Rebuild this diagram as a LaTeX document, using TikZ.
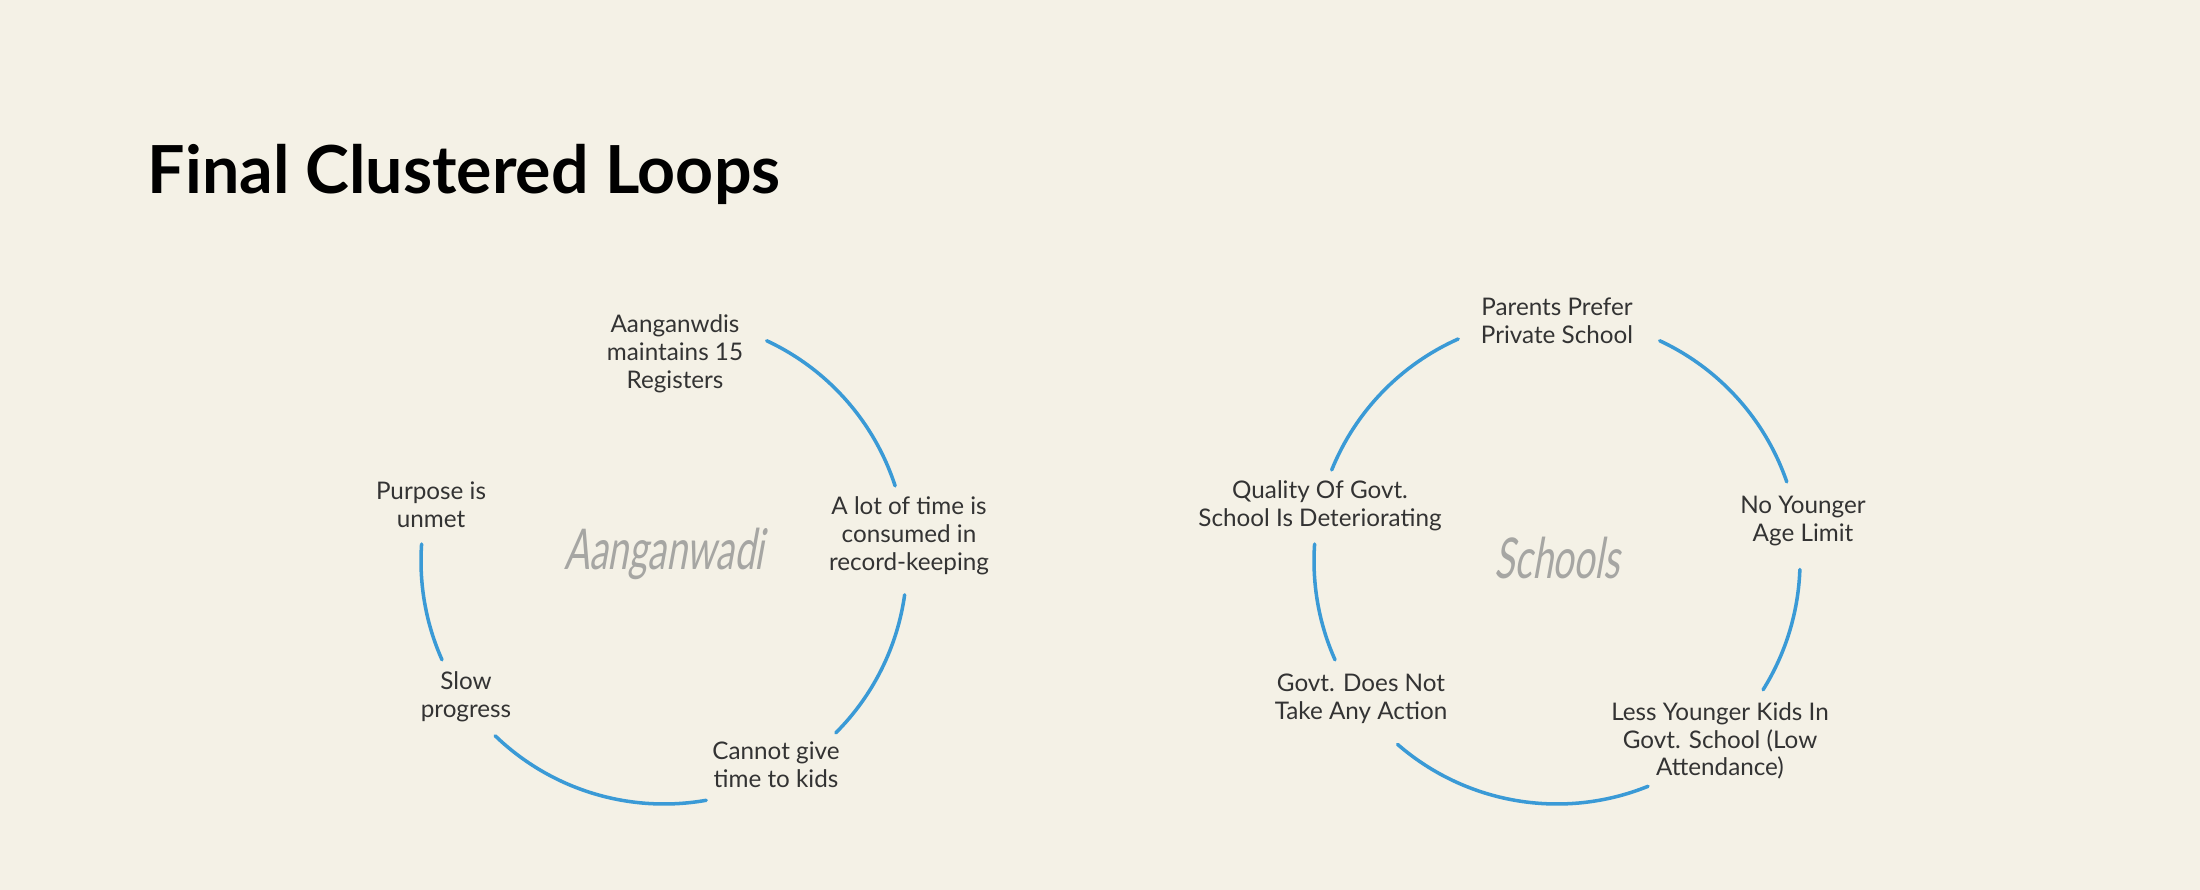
\documentclass[tikz,border=0pt]{standalone}
\usepackage{fontspec}
\setsansfont{Lato}
\newfontfamily\handfont{Lato}[FakeStretch=0.66,FakeSlant=0.18]
\usetikzlibrary{positioning, calc}

\definecolor{paper}{HTML}{F4F1E6}
\definecolor{loopblue}{HTML}{3A9AD6}
\definecolor{ink}{HTML}{333333}
\definecolor{faint}{HTML}{A6A6A3}

\begin{document}
\begin{tikzpicture}[
    font=\sffamily,
    % Styles
    factor/.style={
        align=center, text=ink, inner sep=2pt,
        font=\sffamily\fontsize{6.9}{7.9}\selectfont
    },
    cluster/.style={text=faint, font=\handfont\fontsize{16}{16}\selectfont},
    link/.style={draw=loopblue, line width=1pt, line cap=round},
    heading/.style={anchor=base west, inner sep=0pt, font=\sffamily\bfseries\fontsize{18.85}{20}\selectfont}
]

    % --- Page ---
    \fill[paper] (0,0) rectangle (22,8.9);
    \node[heading] (title) at (1.47,6.96) {Final Clustered Loops};

    % --- Aanganwadi loop ---
    \coordinate (ac) at (6.64,3.29);
    \node[cluster] (aname) at ($(ac)+(0,0.07)$) {Aanganwadi};

    \node[factor] (registers) at (6.75,5.36) {Aanganwdis\\maintains 15\\Registers};
    \node[factor] (recordtime) at (9.09,3.54) {A lot of time is\\consumed in\\record-keeping};
    \node[factor] (notime) at (7.76,1.25) {Cannot give\\time to kids};
    \node[factor] (slowprog) at (4.66,1.93) {Slow\\progress};
    \node[factor] (unmet) at (4.31,3.85) {Purpose is\\unmet};

    \foreach \s/\e in {65/18, -8/-45, -80/-134, 204/176}
        \draw[link] ($(ac)+(\s:2.43)$) arc[start angle=\s, end angle=\e, radius=2.43];

    % --- Schools loop ---
    \coordinate (sc) at (15.57,3.29);
    \node[cluster] (sname) at ($(sc)+(0,0.03)$) {Schools};

    \node[factor] (privpref) at (15.57,5.69) {Parents Prefer\\Private School};
    \node[factor] (noagelimit) at (18.03,3.69) {No Younger\\Age Limit};
    \node[factor] (lowattend) at (17.20,1.49) {Less Younger Kids In\\Govt. School (Low\\Attendance)};
    \node[factor] (noaction) at (13.61,1.91) {Govt. Does Not\\Take Any Action};
    \node[factor] (quality) at (13.20,3.84) {Quality Of Govt.\\School Is Deteriorating};

    \foreach \s/\e in {158/114, 65/19, -2/-32, -68/-131, 204/176}
        \draw[link] ($(sc)+(\s:2.43)$) arc[start angle=\s, end angle=\e, radius=2.43];

\end{tikzpicture}
\end{document}
